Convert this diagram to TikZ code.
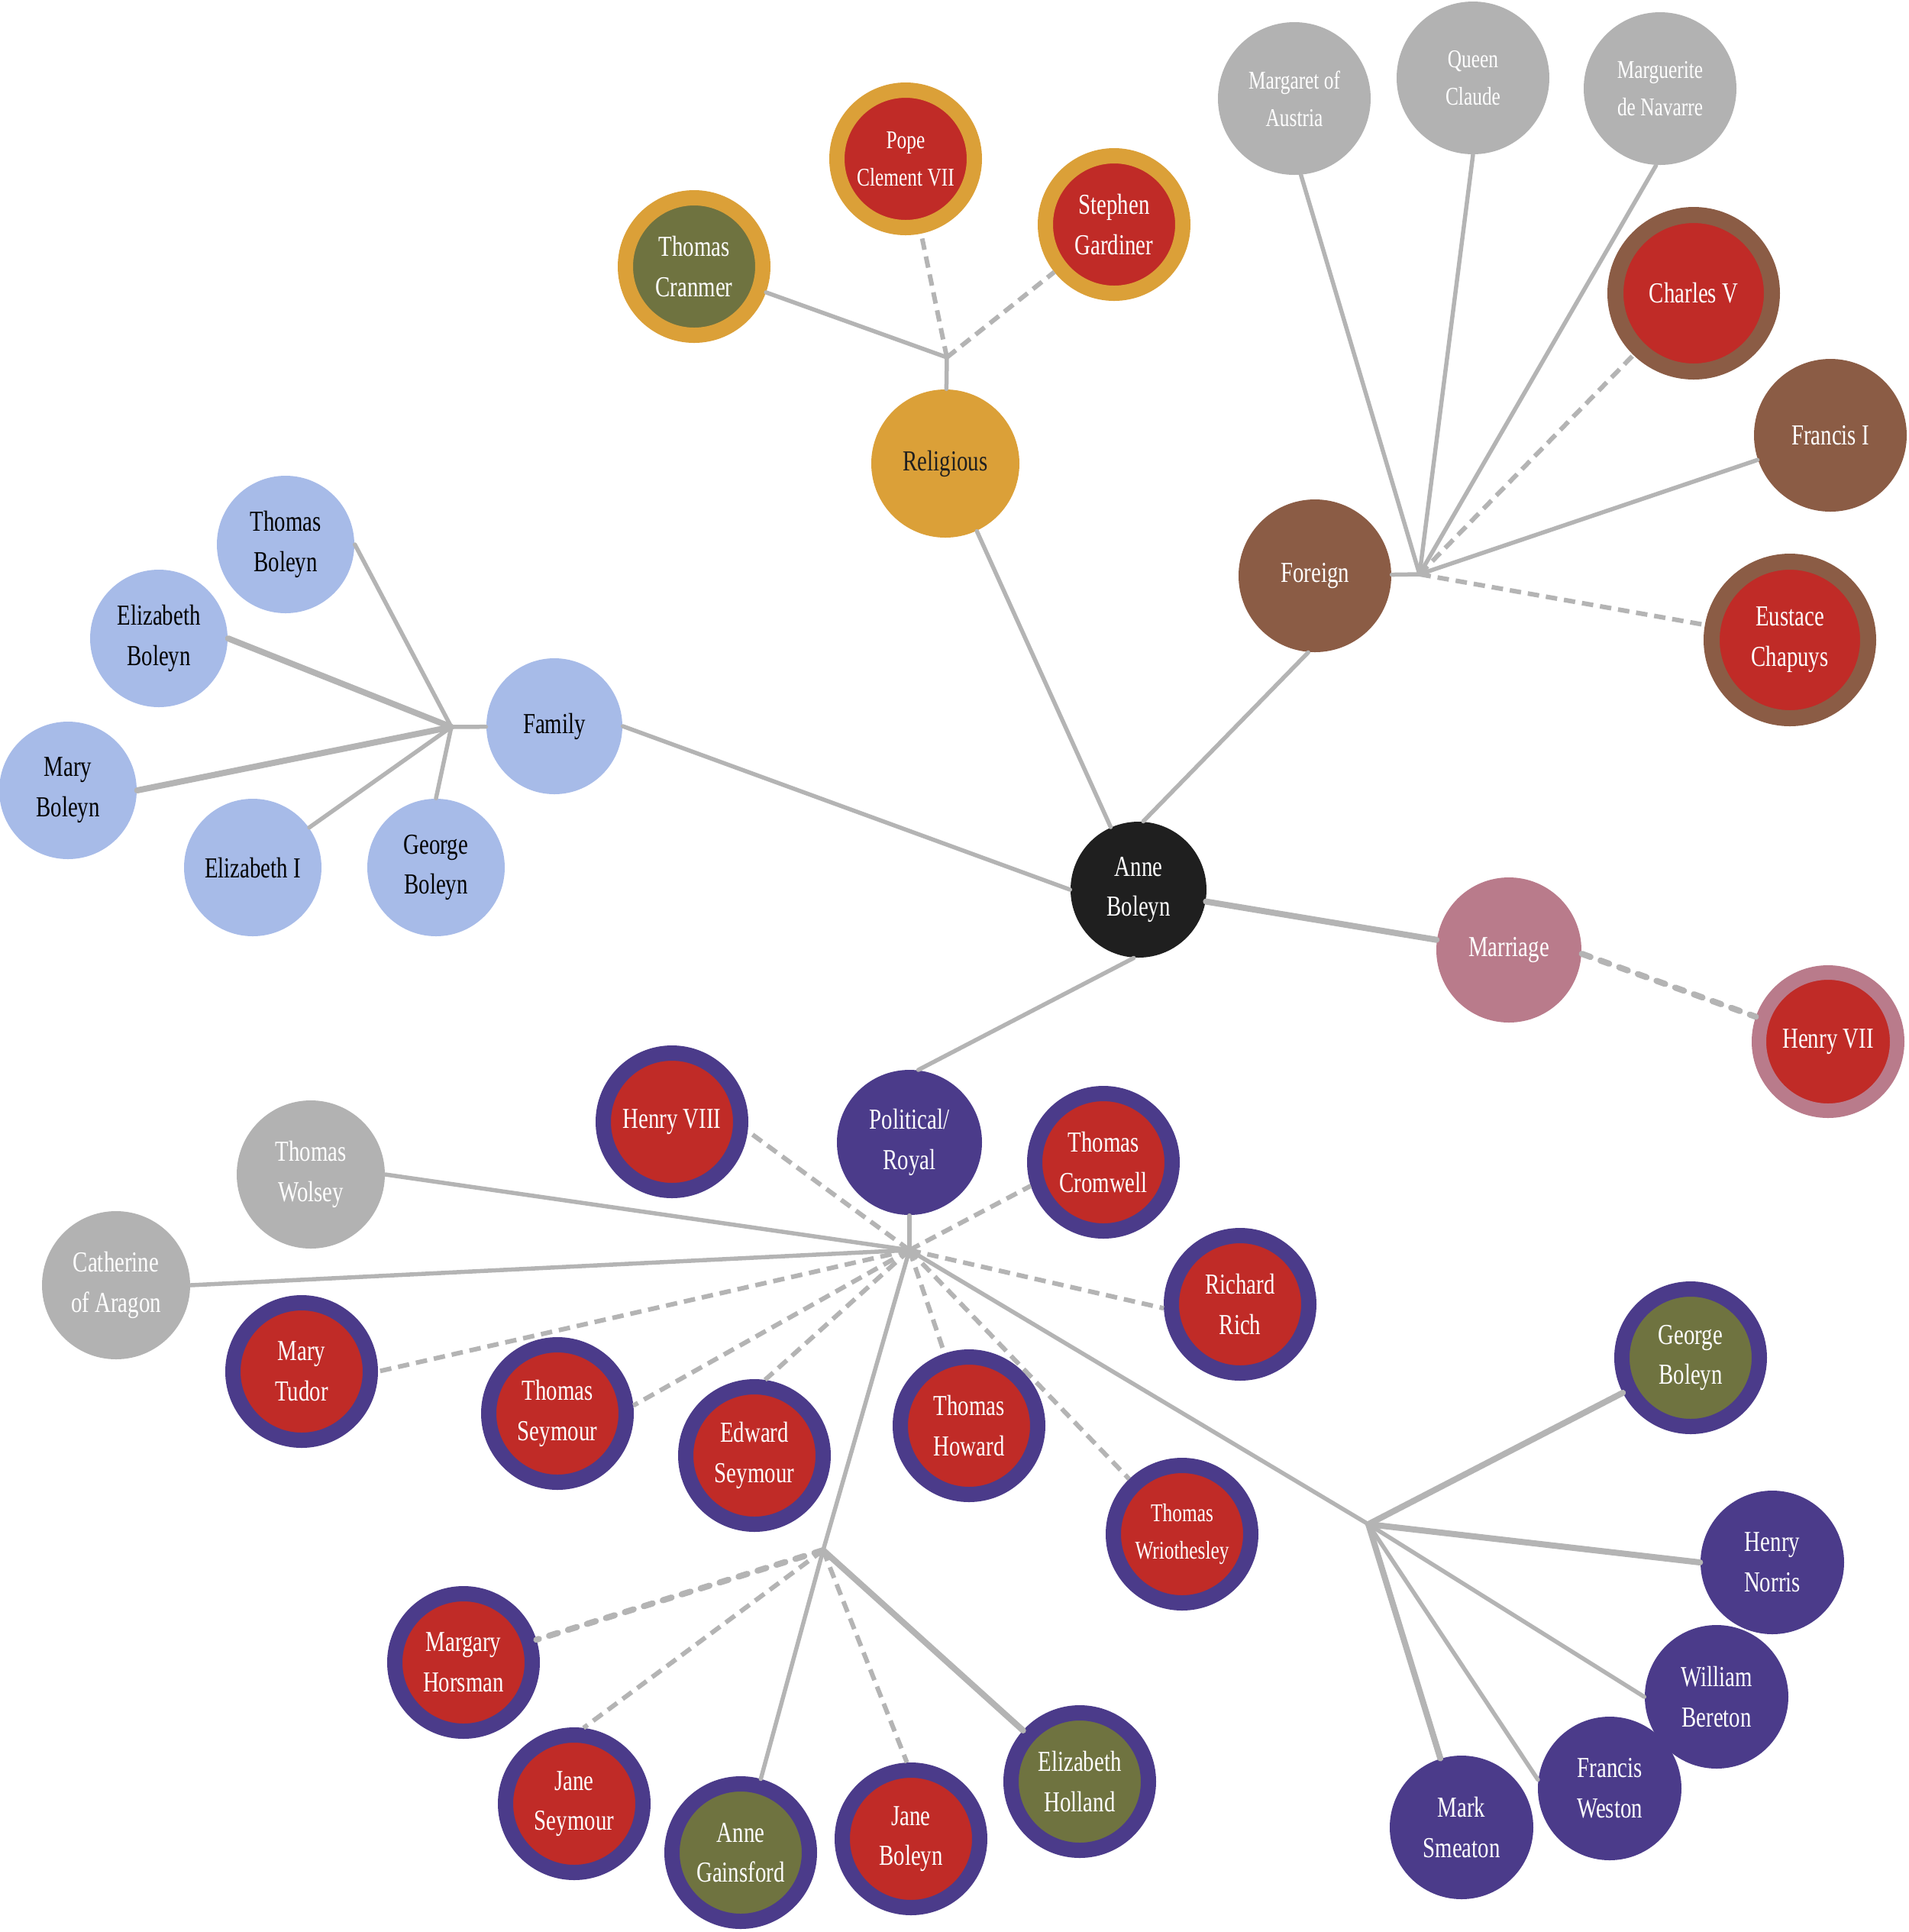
\documentclass[tikz,border=0pt]{standalone}
\usepackage{fontspec}
\setmainfont{Liberation Serif}[FakeStretch=0.76]
\usepackage{xcolor}
\usepackage{tikz}
\definecolor{tudorRed}{HTML}{C02B27}
\definecolor{tudorPurple}{HTML}{4B3B8A}
\definecolor{tudorGold}{HTML}{DBA038}
\definecolor{tudorOlive}{HTML}{6F7340}
\definecolor{tudorBrown}{HTML}{8B5C45}
\definecolor{tudorGrey}{HTML}{B2B2B2}
\definecolor{tudorBlue}{HTML}{A7BBE8}
\definecolor{tudorRose}{HTML}{B97B8B}
\definecolor{tudorBlack}{HTML}{1F1F1F}
\definecolor{tudorLine}{HTML}{B4B4B4}
\newcommand{\namefont}{\fontsize{10.8}{15}\selectfont}
\newcommand{\smallnamefont}{\fontsize{9.5}{14}\selectfont}
\tikzset{
  tie/.style={draw=tudorLine, line width=0.55mm, line cap=round},
  strong tie/.style={tie, line width=0.8mm},
  loose tie/.style={draw=tudorLine, line width=0.6mm,
    dash pattern=on 1.5mm off 0.9mm},
  strong loose tie/.style={draw=tudorLine, line width=0.8mm,
    line cap=round, dash pattern=on 1.2mm off 1.4mm},
  person/.style={circle, inner sep=0pt, align=center, text=white,
    font=\namefont},
  family member/.style={person, fill=tudorBlue, text=black,
    minimum size=18mm},
  outsider/.style={person, fill=tudorGrey, minimum size=19.4mm},
  foreign member/.style={person, fill=tudorBrown, minimum size=20mm},
  court member/.style={person, fill=tudorPurple, minimum size=18.8mm},
  ringed/.style={person, fill=tudorRed, line width=2mm,
    minimum size=18mm},
  religious ring/.style={ringed, draw=tudorGold},
  court ring/.style={ringed, draw=tudorPurple},
  foreign ring/.style={ringed, draw=tudorBrown, line width=2.1mm,
    minimum size=20.5mm},
  marriage ring/.style={ringed, draw=tudorRose, line width=1.9mm,
    minimum size=18.1mm}
}
\begin{document}
\begin{tikzpicture}
  \useasboundingbox (0,0) rectangle (25,-25.3);
  \node[person, fill=tudorBlack, minimum size=17.8mm] (anne) at (14.91,-11.65)
    {Anne\\Boleyn};

  % religious
  \node[person, fill=tudorGold, text=tudorBlack, minimum size=19.4mm]
    (religious) at (12.38,-6.07) {Religious};
  \coordinate (relhub) at (12.40,-4.68);
  \node[religious ring, font=\smallnamefont] (clement) at (11.86,-2.08)
    {Pope\\Clement VII};
  \node[religious ring] (gardiner) at (14.59,-2.94) {Stephen\\Gardiner};
  \node[religious ring, fill=tudorOlive] (cranmer) at (9.09,-3.49)
    {Thomas\\Cranmer};

  % family
  \node[family member, minimum size=17.8mm] (family) at (7.26,-9.51) {Family};
  \coordinate (famhub) at (5.91,-9.52);
  \node[family member] (thomasb) at (3.74,-7.13) {Thomas\\Boleyn};
  \node[family member] (elizabethb) at (2.08,-8.36) {Elizabeth\\Boleyn};
  \node[family member] (maryb) at (0.89,-10.35) {Mary\\Boleyn};
  \node[family member] (elizabethi) at (3.31,-11.36) {Elizabeth I};
  \node[family member] (georgef) at (5.71,-11.36) {George\\Boleyn};

  % foreign
  \node[foreign member] (foreign) at (17.22,-7.54) {Foreign};
  \coordinate (forhub) at (18.59,-7.52);
  \node[outsider, minimum size=20mm, font=\smallnamefont] (margaret)
    at (16.95,-1.29) {Margaret of\\Austria};
  \node[outsider, minimum size=20mm, font=\smallnamefont] (claude)
    at (19.29,-1.02) {Queen\\Claude};
  \node[outsider, minimum size=20mm, font=\smallnamefont] (marguerite)
    at (21.74,-1.16) {Marguerite\\de Navarre};
  \node[foreign ring] (charles) at (22.18,-3.84) {Charles V};
  \node[foreign member] (francis) at (23.97,-5.70) {Francis I};
  \node[foreign ring] (chapuys) at (23.44,-8.38) {Eustace\\Chapuys};

  % marriage
  \node[person, fill=tudorRose, minimum size=19mm] (marriage) at (19.76,-12.44)
    {Marriage};
  \node[marriage ring] (henryvii) at (23.94,-13.64) {Henry VII};

  % political / royal
  \node[court member, minimum size=19mm] (political) at (11.91,-14.96)
    {Political/\\Royal};
  \coordinate (polhub) at (11.91,-16.37);
  \coordinate (courthub) at (17.92,-19.96);
  \coordinate (househub) at (10.78,-20.30);
  \node[court ring] (henryviii) at (8.80,-14.69) {Henry VIII};
  \node[outsider] (wolsey) at (4.07,-15.38) {Thomas\\Wolsey};
  \node[outsider] (catherine) at (1.52,-16.83) {Catherine\\of Aragon};
  \node[court ring] (cromwell) at (14.45,-15.22) {Thomas\\Cromwell};
  \node[court ring] (rich) at (16.24,-17.08) {Richard\\Rich};
  \node[court ring] (marytudor) at (3.95,-17.96) {Mary\\Tudor};
  \node[court ring] (thomass) at (7.30,-18.51) {Thomas\\Seymour};
  \node[court ring] (edwards) at (9.88,-19.06) {Edward\\Seymour};
  \node[court ring] (howard) at (12.69,-18.67) {Thomas\\Howard};
  \node[court ring, font=\smallnamefont] (wriothesley) at (15.48,-20.09)
    {Thomas\\Wriothesley};
  \node[court ring, fill=tudorOlive] (georgep) at (22.14,-17.78)
    {George\\Boleyn};
  \node[court member] (norris) at (23.21,-20.46) {Henry\\Norris};
  \node[court member] (bereton) at (22.48,-22.22) {William\\Bereton};
  \node[court member] (weston) at (21.08,-23.42) {Francis\\Weston};
  \node[court member] (smeaton) at (19.14,-23.93) {Mark\\Smeaton};
  \node[court ring] (horsman) at (6.07,-21.77) {Margary\\Horsman};
  \node[court ring] (janes) at (7.52,-23.62) {Jane\\Seymour};
  \node[court ring, fill=tudorOlive] (gainsford) at (9.70,-24.26)
    {Anne\\Gainsford};
  \node[court ring] (janeb) at (11.93,-24.08) {Jane\\Boleyn};
  \node[court ring, fill=tudorOlive] (holland) at (14.14,-23.33)
    {Elizabeth\\Holland};

  % ties
  \draw[tie] (anne.114) -- (religious.-65);
  \draw[tie] (religious) -- (relhub);
  \draw[tie] (relhub) -- (cranmer);
  \draw[loose tie] (relhub) -- (clement);
  \draw[loose tie] (relhub) -- (gardiner);

  \draw[tie] (anne.west) -- (family.east);
  \draw[tie] (family) -- (famhub);
  \draw[tie] (famhub) -- (thomasb.east);
  \draw[strong tie] (famhub) -- (elizabethb.east);
  \draw[strong tie] (famhub) -- (maryb.east);
  \draw[tie] (famhub) -- (elizabethi); \draw[tie] (famhub) -- (georgef.north);

  \draw[tie] (anne.86) -- (foreign.-95);
  \draw[tie] (foreign) -- (forhub);
  \draw[tie] (forhub) -- (margaret.-85); \draw[tie] (forhub) -- (claude.south);
  \draw[tie] (forhub) -- (marguerite.-93); \draw[tie] (forhub) -- (francis);
  \draw[loose tie] (forhub) -- (charles);
  \draw[loose tie] (forhub) -- (chapuys);

  \draw[strong tie] (anne.-10) -- (marriage.172);
  \draw[strong loose tie] (marriage.-3) -- (henryvii.161);

  \draw[tie] (anne.-94) -- (political.83);
  \draw[tie] (political) -- (polhub);
  \draw[tie] (polhub) -- (wolsey.east); \draw[tie] (polhub) -- (catherine.east);
  \draw[loose tie] (polhub) -- (henryviii.-7);
  \draw[loose tie] (polhub) -- (cromwell.198);
  \draw[loose tie] (polhub) -- (rich.183);
  \draw[loose tie] (polhub) -- (marytudor.east);
  \draw[loose tie] (polhub) -- (thomass.6);
  \draw[loose tie] (polhub) -- (edwards.82);
  \draw[loose tie] (polhub) -- (howard);
  \draw[loose tie] (polhub) -- (wriothesley);
  \draw[tie] (polhub) -- (courthub);
  \draw[tie] (polhub) -- (househub) -- (gainsford);

  \draw[strong tie] (courthub) -- (georgep);
  \draw[strong tie] (courthub) -- (norris.west);
  \draw[tie] (courthub) -- (bereton.west); \draw[tie] (courthub) -- (weston.173);
  \draw[strong tie] (courthub) -- (smeaton);

  \draw[strong loose tie] (househub) -- (horsman);
  \draw[loose tie] (househub) -- (janes.83);
  \draw[loose tie] (househub) -- (janeb.93);
  \draw[strong tie] (househub) -- (holland);
\end{tikzpicture}
\end{document}
